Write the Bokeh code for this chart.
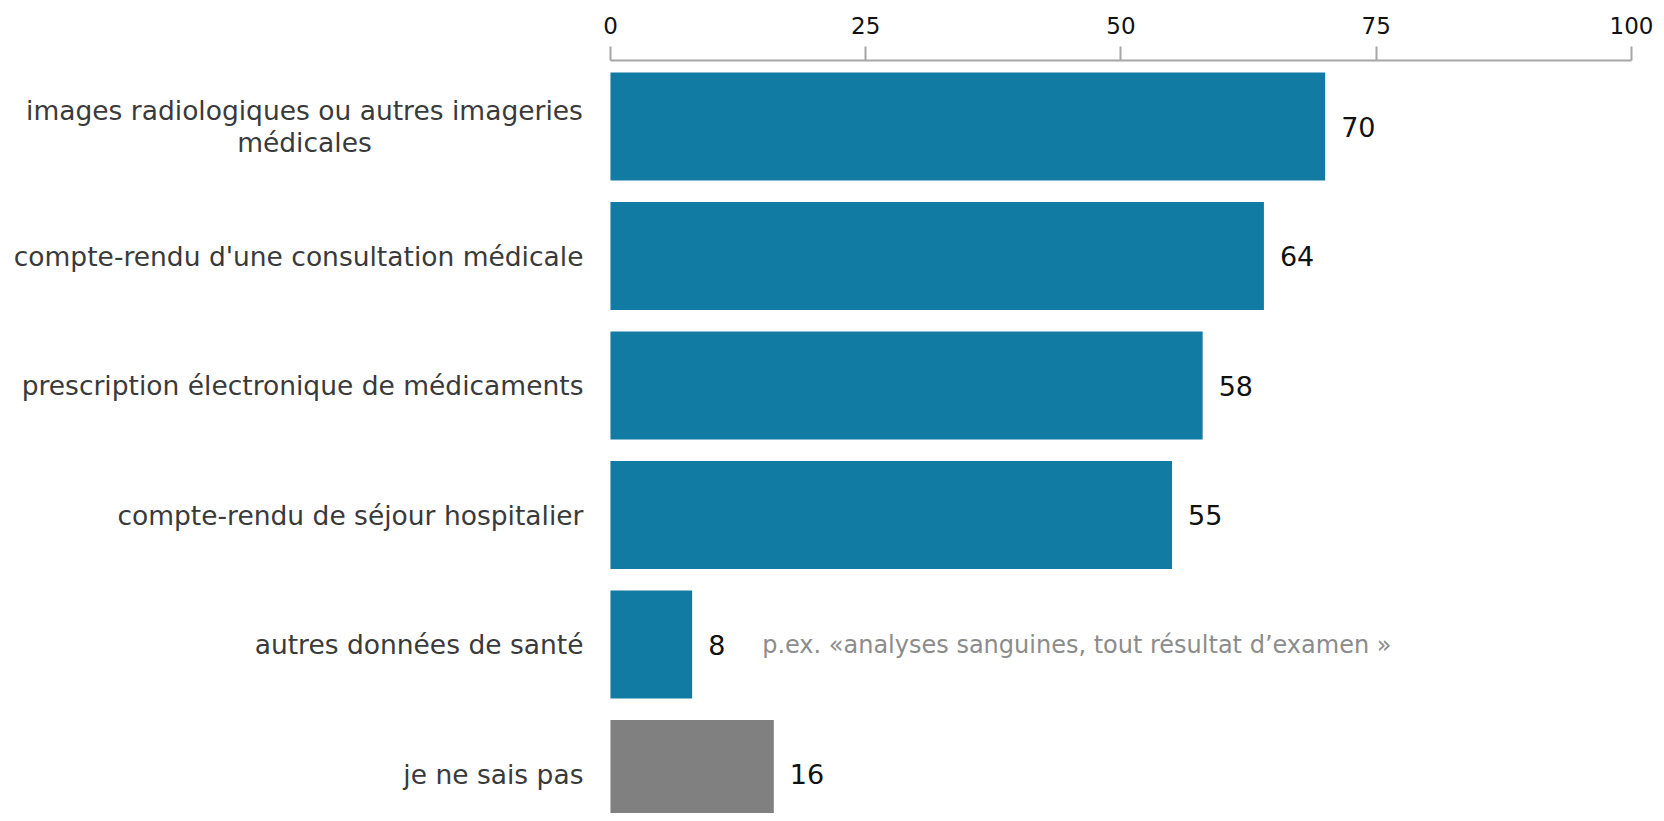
from bokeh.plotting import figure
from bokeh.models import ColumnDataSource, Range1d, FixedTicker
from bokeh.core.properties import value
from bokeh.embed import file_html
from bokeh.resources import INLINE

categories = [
    "images radiologiques ou autres imageries\nmédicales",
    "compte-rendu d'une consultation médicale",
    "prescription électronique de médicaments",
    "compte-rendu de séjour hospitalier",
    "autres données de santé",
    "je ne sais pas",
]
values = [70, 64, 58, 55, 8, 16]
bar_colors = ["#117ba4", "#117ba4", "#117ba4", "#117ba4", "#117ba4", "#808080"]
note_text = "p.ex. «analyses sanguines, tout résultat d’examen »"
note_index = 4
x_ticks = [0, 25, 50, 75, 100]

FONT = "DejaVu Sans"
n = len(categories)
ypos = [n - 1 - i + 0.5 for i in range(n)]

src = ColumnDataSource(dict(
    y=ypos,
    v=values,
    c=bar_colors,
    lab=[str(v) for v in values],
))

single = [i for i, c in enumerate(categories) if "\n" not in c]
multi = [i for i, c in enumerate(categories) if "\n" in c]
src_single = ColumnDataSource(dict(y=[ypos[i] for i in single], t=[categories[i] for i in single], x=[0] * len(single)))
src_multi = ColumnDataSource(dict(y=[ypos[i] for i in multi], t=[categories[i] for i in multi], x=[0] * len(multi)))

p = figure(
    width=1656, height=813,
    x_range=Range1d(-59.74, 102.45),
    y_range=Range1d(0.195, 6.01),
    x_axis_location="above", y_axis_location=None,
    output_backend="svg", toolbar_location=None,
    min_border_top=60, min_border_left=0, min_border_right=0, min_border_bottom=0,
)
p.outline_line_color = None
p.xgrid.visible = False
p.ygrid.visible = False
p.background_fill_color = "white"

ax = p.xaxis[0]
ax.ticker = FixedTicker(ticks=x_ticks)
ax.bounds = (0, 100)
ax.axis_line_color = "#a6a6a6"
ax.axis_line_width = 2
ax.major_tick_line_color = "#a6a6a6"
ax.major_tick_line_width = 2
ax.major_tick_out = 14
ax.major_tick_in = 0
ax.minor_tick_line_color = None
ax.major_label_standoff = 13
ax.major_label_text_font = FONT
ax.major_label_text_font_size = "23px"
ax.major_label_text_color = "#111111"

p.hbar(y="y", left=0, right="v", height=0.834, fill_color="c", line_color=None, source=src)

p.text(x="v", y="y", text="lab", source=src, x_offset=16, text_align="left",
       text_baseline="middle", text_font=value(FONT), text_font_size="27px", text_color="#111111")

p.text(x="x", y="y", text="t", source=src_single, x_offset=-27, text_align="right",
       text_baseline="middle", text_font=value(FONT), text_font_size="26.5px", text_color="#3a3a3a")
p.text(x="x", y="y", text="t", source=src_multi, x_offset=-306, text_align="center",
       text_baseline="middle", text_font=value(FONT), text_font_size="26.5px", text_color="#3a3a3a",
       text_line_height=1.05)

p.text(x=[values[note_index]], y=[ypos[note_index]], text=[note_text], x_offset=70,
       text_align="left", text_baseline="middle", text_font=value(FONT),
       text_font_size="24px", text_color="#8c8c8c")

open("out.html", "w").write(file_html(p, INLINE))
